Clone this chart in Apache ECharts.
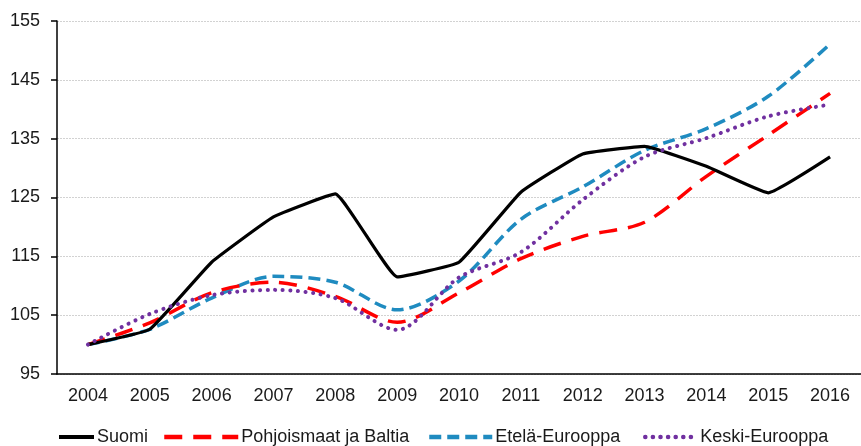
<!DOCTYPE html>
<html>
<head>
<meta charset="utf-8">
<script src="https://cdn.jsdelivr.net/npm/echarts@6/dist/echarts.min.js"></script>
<style>
html,body{margin:0;padding:0;background:#fff;}
#c{width:861px;height:446px;}
</style>
</head>
<body>
<div id="c"></div>
<script>
var years = ['2004','2005','2006','2007','2008','2009','2010','2011','2012','2013','2014','2015','2016'];
var suomi = [100, 102.6, 114.0, 121.7, 125.6, 111.5, 114.0, 125.9, 132.4, 133.7, 130.3, 125.8, 131.9];
var pohjoismaat = [100, 103.7, 108.8, 110.6, 108.2, 103.8, 108.8, 114.6, 118.4, 120.8, 128.6, 135.6, 142.7];
var etela = [100, 102.6, 107.9, 111.6, 110.6, 105.9, 110.8, 121.3, 126.8, 133.0, 136.7, 142.2, 151.1];
var keski = [100, 105.2, 108.4, 109.3, 107.9, 102.5, 111.4, 115.7, 124.6, 131.9, 135.1, 138.8, 140.8];
var seriesNames = ['Suomi', 'Pohjoismaat ja Baltia', 'Etelä-Eurooppa', 'Keski-Eurooppa'];
var yTicks = {min: 95, max: 155, interval: 10};

var font = 'Liberation Sans, Arial, sans-serif';
var legendLefts = [57, 162, 427, 643];
var legendWidths = [35, 74, 63, 52];
var legends = seriesNames.map(function (n, i) {
  return {
    top: 428,
    left: legendLefts[i],
    padding: 0,
    itemWidth: legendWidths[i],
    itemHeight: 14,
    itemStyle: {opacity: 0},
    lineStyle: {width: i === 0 ? 4 : 4.5},
    textStyle: {fontFamily: font, fontSize: 18, color: '#1a1a1a', padding: [0, 0, 0, -2]},
    data: [n]
  };
});

var chart = echarts.init(document.getElementById('c'), null, {renderer: 'canvas'});
chart.setOption({
  animation: false,
  backgroundColor: '#fff',
  grid: {left: 57, right: -5, top: 21, bottom: 72, containLabel: false},
  legend: legends,
  xAxis: {
    type: 'category',
    data: years,
    boundaryGap: true,
    axisLine: {lineStyle: {color: '#000', width: 1.5}},
    axisTick: {length: 6, lineStyle: {color: '#000', width: 1.5}},
    axisLabel: {fontFamily: font, fontSize: 18, color: '#1a1a1a', margin: 13},
    splitLine: {show: false}
  },
  yAxis: {
    type: 'value',
    min: yTicks.min, max: yTicks.max, interval: yTicks.interval,
    axisLine: {show: true, lineStyle: {color: '#000', width: 1.5}},
    axisTick: {show: true, length: 6, lineStyle: {color: '#000', width: 1.5}},
    axisLabel: {fontFamily: font, fontSize: 18, color: '#1a1a1a', margin: 17},
    splitLine: {show: true, lineStyle: {color: '#d2d2d2', width: 1, type: [2, 1]}}
  },
  series: [
    {name: seriesNames[0], type: 'line', data: suomi, symbol: 'none', smooth: 0.1,
     lineStyle: {color: '#000', width: 3.2}, itemStyle: {color: '#000'}, z: 5},
    {name: seriesNames[1], type: 'line', data: pohjoismaat, symbol: 'none', smooth: 0.3,
     lineStyle: {color: '#ff0000', width: 3.5, type: [18, 11]}, itemStyle: {color: '#ff0000'}, z: 4},
    {name: seriesNames[2], type: 'line', data: etela, symbol: 'none', smooth: 0.3,
     lineStyle: {color: '#1f8bc0', width: 3.5, type: [12, 6]}, itemStyle: {color: '#1f8bc0'}, z: 3},
    {name: seriesNames[3], type: 'line', data: keski, symbol: 'none', smooth: 0.3,
     lineStyle: {color: '#7030a0', width: 4, type: [0.1, 7.5], cap: 'round'}, itemStyle: {color: '#7030a0'}, z: 6}
  ]
});
</script>
</body>
</html>
